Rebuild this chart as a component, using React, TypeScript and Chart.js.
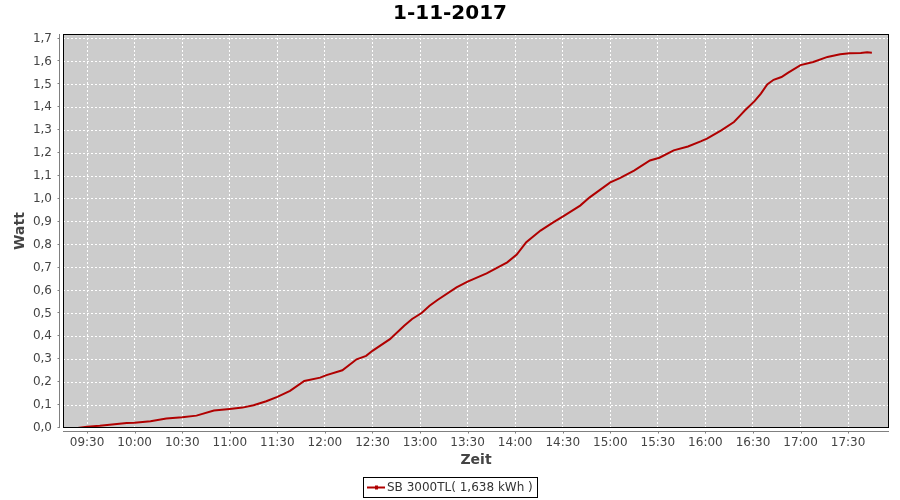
import React, { useEffect, useRef } from "react";
import { Chart, registerables } from "chart.js";

Chart.register(...registerables);

const chartTitle = "1-11-2017";
const xAxisTitle = "Zeit";
const yAxisTitle = "Watt";
const seriesLabel = "SB 3000TL( 1,638 kWh )";

const times = [
  "09:24", "09:30", "09:38", "09:55", "10:00", "10:10", "10:20", "10:30", "10:39", "10:50",
  "11:00", "11:08", "11:15", "11:23", "11:30", "11:38", "11:47", "11:57", "12:01", "12:11",
  "12:20", "12:26", "12:30", "12:41", "12:50", "12:55", "13:01", "13:06", "13:11", "13:23",
  "13:30", "13:42", "13:55", "14:01", "14:07", "14:16", "14:24", "14:31", "14:41", "14:47",
  "15:00", "15:06", "15:15", "15:25", "15:31", "15:40", "15:49", "15:57", "16:01", "16:10",
  "16:18", "16:22", "16:25", "16:31", "16:35", "16:39", "16:43", "16:48", "16:52", "17:00",
  "17:08", "17:17", "17:25", "17:31", "17:38", "17:42", "17:45",
];

const energy = [
  0.000, 0.006, 0.010, 0.022, 0.023, 0.029, 0.041, 0.047, 0.054, 0.076,
  0.083, 0.089, 0.099, 0.117, 0.136, 0.162, 0.205, 0.220, 0.231, 0.252,
  0.300, 0.315, 0.337, 0.388, 0.446, 0.476, 0.502, 0.534, 0.559, 0.614,
  0.639, 0.675, 0.723, 0.757, 0.811, 0.862, 0.898, 0.927, 0.971, 1.007,
  1.072, 1.091, 1.124, 1.168, 1.180, 1.212, 1.229, 1.251, 1.263, 1.299,
  1.336, 1.365, 1.387, 1.427, 1.460, 1.500, 1.520, 1.532, 1.550, 1.584,
  1.598, 1.620, 1.632, 1.636, 1.637, 1.640, 1.638,
];

const xTickLabels = [
  "09:30", "10:00", "10:30", "11:00", "11:30", "12:00", "12:30", "13:00", "13:30",
  "14:00", "14:30", "15:00", "15:30", "16:00", "16:30", "17:00", "17:30",
];

const yTickValues = [0, 0.1, 0.2, 0.3, 0.4, 0.5, 0.6, 0.7, 0.8, 0.9, 1.0, 1.1, 1.2, 1.3, 1.4, 1.5, 1.6, 1.7];

const xRange = ["09:14.8", "17:55.8"];
const yRange = [0, 1.72];

const FONT = "'DejaVu Sans', sans-serif";
const LINE_COLOR = "#b00000";

const toMin = (s: string) => {
  const [h, m] = s.split(":");
  return parseInt(h, 10) * 60 + parseFloat(m);
};
const fmtMin = (v: number) => {
  const h = Math.floor(v / 60);
  const m = Math.round(v - h * 60);
  return String(h).padStart(2, "0") + ":" + String(m).padStart(2, "0");
};

const decoPlugin = {
  id: "deco",
  beforeDraw(chart: any) {
    const { ctx, chartArea: a } = chart;
    ctx.save();
    ctx.fillStyle = "#cccccc";
    ctx.fillRect(a.left, a.top, a.right - a.left, a.bottom - a.top);
    ctx.restore();
  },
  afterDraw(chart: any) {
    const { ctx, chartArea: a } = chart;
    const xs = chart.scales.x;
    const ys = chart.scales.y;
    ctx.save();
    // plot frame
    ctx.strokeStyle = "#000000";
    ctx.lineWidth = 1;
    ctx.strokeRect(a.left + 0.5, a.top + 0.5, a.right - a.left - 1, a.bottom - a.top - 1);
    // grey axis lines offset outside
    ctx.strokeStyle = "#808080";
    ctx.beginPath();
    const yx = a.left - 4 + 0.5;
    ctx.moveTo(yx, a.top);
    ctx.lineTo(yx, a.bottom);
    yTickValues.forEach((v) => {
      const py = Math.round(ys.getPixelForValue(v)) - 0.5;
      ctx.moveTo(yx - 2, py);
      ctx.lineTo(yx, py);
    });
    const xy = a.bottom + 3 + 0.5;
    ctx.moveTo(a.left, xy);
    ctx.lineTo(a.right, xy);
    xTickLabels.forEach((t) => {
      const px = Math.round(xs.getPixelForValue(toMin(t))) + 0.5;
      ctx.moveTo(px, xy);
      ctx.lineTo(px, xy + 2);
    });
    ctx.stroke();

    // legend
    ctx.font = "12px " + FONT;
    const tw = ctx.measureText(seriesLabel).width;
    const bw = Math.round(tw + 29);
    const bx = Math.round((chart.width - bw) / 2);
    const by = 477;
    const bh = 21;
    ctx.fillStyle = "#ffffff";
    ctx.fillRect(bx, by, bw, bh);
    ctx.strokeStyle = "#000000";
    ctx.strokeRect(bx + 0.5, by + 0.5, bw - 1, bh - 1);
    const cy = by + 10.5;
    ctx.strokeStyle = LINE_COLOR;
    ctx.lineWidth = 2;
    ctx.beginPath();
    ctx.moveTo(bx + 4, cy);
    ctx.lineTo(bx + 22, cy);
    ctx.stroke();
    ctx.fillStyle = LINE_COLOR;
    ctx.fillRect(bx + 12, cy - 2, 3, 4);
    ctx.fillStyle = "#333333";
    ctx.textBaseline = "middle";
    ctx.textAlign = "left";
    ctx.fillText(seriesLabel, bx + 24, cy + 0.5);
    ctx.restore();
  },
};

export default function App() {
  const ref = useRef<HTMLCanvasElement | null>(null);
  useEffect(() => {
    if (!ref.current) return;
    const points = times.map((t, i) => ({ x: toMin(t), y: energy[i] }));
    const chart = new Chart(ref.current, {
      type: "line",
      data: {
        datasets: [
          {
            label: seriesLabel,
            data: points,
            borderColor: LINE_COLOR,
            backgroundColor: LINE_COLOR,
            borderWidth: 2,
            pointRadius: 0,
            tension: 0,
            fill: false,
          },
        ],
      },
      options: {
        responsive: false,
        animation: false,
        events: [],
        layout: { padding: { left: 0, right: 0, top: 0, bottom: 0 } },
        plugins: {
          legend: { display: false },
          tooltip: { enabled: false },
          title: {
            display: true,
            text: chartTitle,
            color: "#000000",
            font: { family: FONT, size: 20, weight: "bold" },
            padding: { top: 2, bottom: 8 },
          },
        },
        scales: {
          x: {
            type: "linear",
            min: toMin(xRange[0]),
            max: toMin(xRange[1]),
            afterBuildTicks: (scale: any) => {
              scale.ticks = xTickLabels.map((t) => ({ value: toMin(t) }));
            },
            afterFit: (scale: any) => {
              scale.height = 72;
            },
            grid: {
              color: "#ffffff",
              lineWidth: 1,
              drawTicks: false,
              tickLength: 0,
            },
            border: { display: false, dash: [2, 2] },
            ticks: {
              padding: 8,
              color: "#444444",
              font: { family: FONT, size: 12 },
              maxRotation: 0,
              autoSkip: false,
              callback: (v: any) => fmtMin(Number(v)),
            },
            title: {
              display: true,
              text: xAxisTitle,
              color: "#444444",
              font: { family: FONT, size: 14, weight: "bold" },
              padding: { top: 0, bottom: 31 },
            },
          },
          y: {
            type: "linear",
            min: yRange[0],
            max: yRange[1],
            afterBuildTicks: (scale: any) => {
              scale.ticks = yTickValues.map((v) => ({ value: v }));
            },
            afterFit: (scale: any) => {
              scale.width = 63;
            },
            grid: {
              color: "#ffffff",
              lineWidth: 1,
              drawTicks: false,
              tickLength: 0,
            },
            border: { display: false, dash: [2, 2] },
            ticks: {
              padding: 11,
              color: "#444444",
              font: { family: FONT, size: 12 },
              autoSkip: false,
              callback: (v: any) => Number(v).toFixed(1).replace(".", ","),
            },
            title: {
              display: true,
              text: yAxisTitle,
              color: "#444444",
              font: { family: FONT, size: 14, weight: "bold" },
              padding: { top: 12, bottom: 0 },
            },
          },
          spacer: {
            type: "linear",
            position: "right",
            display: true,
            min: 0,
            max: 1,
            afterFit: (scale: any) => {
              scale.width = 11;
            },
            grid: { display: false, drawOnChartArea: false, drawTicks: false },
            border: { display: false },
            ticks: { display: false },
            title: { display: false },
          },
        },
      },
      plugins: [decoPlugin],
    } as any);
    return () => chart.destroy();
  }, []);
  return (
    <div style={{ position: "absolute", left: 0, top: 0, width: 900, height: 500, background: "#ffffff" }}>
      <canvas ref={ref} width={900} height={500} />
    </div>
  );
}
